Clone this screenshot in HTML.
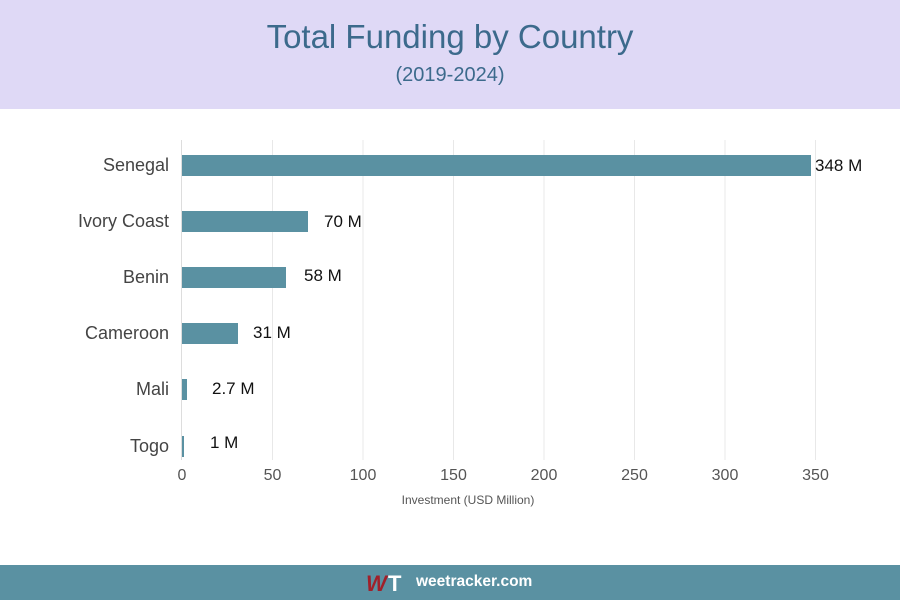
<!DOCTYPE html>
<html><head><meta charset="utf-8"><style>
body{margin:0;width:900px;height:600px;position:relative;background:#fff;font-family:"Liberation Sans",sans-serif;overflow:hidden}
.hdr{position:absolute;left:0;top:0;width:900px;height:109px;background:#dfd9f6}
.t1{position:absolute;top:18px;width:900px;text-align:center;font-size:33px;color:#3c6a8c}
.t2{position:absolute;top:64px;width:900px;text-align:center;font-size:20px;color:#3c6a8c}
.ftr{position:absolute;left:0;top:565px;width:900px;height:35px;background:#5a91a2}
</style></head><body>
<div class="hdr"><div class="t1">Total Funding by Country</div><div class="t2">(2019-2024)</div></div>
<svg width="900" height="600" style="position:absolute;left:0;top:0" font-family="Liberation Sans, sans-serif">
<g stroke="#e8e8e8" stroke-width="1">
<line x1="272.5" y1="140" x2="272.5" y2="460"/><line x1="363" y1="140" x2="363" y2="460"/><line x1="453.5" y1="140" x2="453.5" y2="460"/><line x1="544" y1="140" x2="544" y2="460"/><line x1="634.5" y1="140" x2="634.5" y2="460"/><line x1="725" y1="140" x2="725" y2="460"/><line x1="815.5" y1="140" x2="815.5" y2="460"/>
</g>
<line x1="181.5" y1="140" x2="181.5" y2="460" stroke="#ddd"/>
<g fill="#5a91a2">
<rect x="182" y="155" width="629" height="21"/>
<rect x="182" y="211" width="126" height="21"/>
<rect x="182" y="267" width="104" height="21"/>
<rect x="182" y="323" width="56" height="21"/>
<rect x="182" y="379" width="5" height="21"/>
<rect x="182" y="436" width="2" height="21"/>
</g>
<g font-size="18" fill="#444" text-anchor="end">
<text x="169" y="171">Senegal</text><text x="169" y="227">Ivory Coast</text><text x="169" y="283">Benin</text><text x="169" y="339">Cameroon</text><text x="169" y="395">Mali</text><text x="169" y="452">Togo</text>
</g>
<g font-size="17" fill="#111">
<text x="815" y="171">348 M</text><text x="324" y="227">70 M</text><text x="304" y="281">58 M</text><text x="253" y="338">31 M</text><text x="212" y="394">2.7 M</text><text x="210" y="448">1 M</text>
</g>
<g font-size="16" fill="#555" text-anchor="middle">
<text x="182" y="480">0</text><text x="272.5" y="480">50</text><text x="363" y="480">100</text><text x="453.5" y="480">150</text><text x="544" y="480">200</text><text x="634.5" y="480">250</text><text x="725" y="480">300</text><text x="815.5" y="480">350</text>
</g>
<text x="468" y="504" font-size="12" fill="#555" text-anchor="middle">Investment (USD Million)</text>
</svg>
<div class="ftr">
<div style="position:absolute;left:366px;top:6px;font-size:22px;font-weight:bold;font-style:italic;color:#a0202a">W</div>
<div style="position:absolute;left:388px;top:6px;font-size:22px;font-weight:bold;color:#fff">T</div>
<div style="position:absolute;left:416px;top:8px;font-size:15.5px;font-weight:bold;color:#fff">weetracker.com</div>
</div>
</body></html>
